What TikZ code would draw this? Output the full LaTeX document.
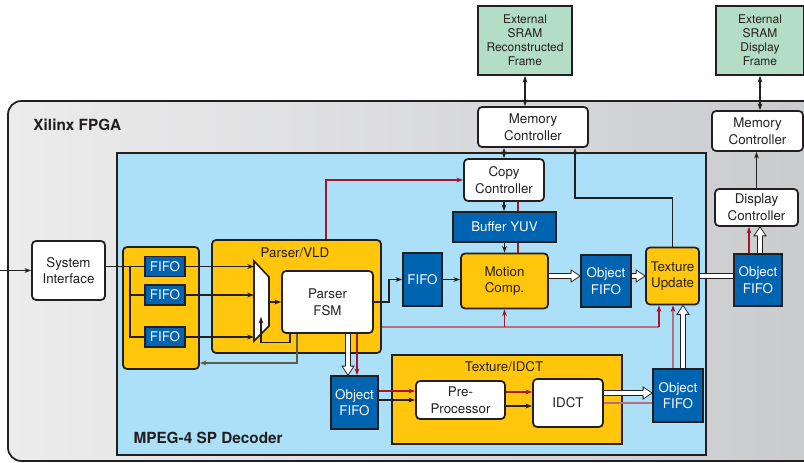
\documentclass[tikz,border=0pt]{standalone}
\usepackage{fontspec}
\setmainfont{TeX Gyre Heros}
\usetikzlibrary{arrows.meta,calc}

\definecolor{bord}{HTML}{231F20}
\definecolor{yel}{HTML}{FFC60B}
\definecolor{dblue}{HTML}{0064B0}
\definecolor{lblue}{HTML}{ACDFF8}
\definecolor{sgreen}{HTML}{B3DDC4}
\definecolor{redl}{HTML}{A5162A}
\definecolor{pinkl}{HTML}{B5707C}
\definecolor{fbgray}{HTML}{5E5B52}
\definecolor{fpgal}{HTML}{ECECED}
\definecolor{fpgad}{HTML}{C9CACC}

\tikzset{every picture/.style={line width=0.75pt}}
\tikzset{
  lbl/.style={font=\fontsize{10}{12.5}\selectfont, text=bord, align=center, inner sep=1pt},
  wbox/.style={lbl, draw=bord, fill=white, rounded corners=3pt, line width=1.3pt},
  ybox/.style={wbox, fill=yel},
  fifo/.style={lbl, draw=bord, fill=dblue, text=white, line width=1.3pt},
  sram/.style={lbl, draw=bord, fill=sgreen, line width=1.3pt, font=\fontsize{9}{10.5}\selectfont},
  title/.style={font=\fontsize{11.5}{13}\selectfont\bfseries, text=bord, inner sep=0pt},
  arr/.style={draw=bord, line width=1pt, -{Stealth[length=5pt,width=3.6pt]}},
  darr/.style={draw=bord, line width=1pt, {Stealth[length=5pt,width=3.6pt]}-{Stealth[length=5pt,width=3.6pt]}},
  redarr/.style={draw=redl, line width=0.8pt, -{Stealth[length=5pt,width=3.6pt]}},
  pinkarr/.style={draw=pinkl, line width=0.8pt, -{Stealth[length=5pt,width=3.6pt,color=redl]}},
  hollow/.style={draw=bord, double=white, double distance=2.9pt, line width=0.6pt},
  hhead/.pic={
    \fill[white] (0,0) -- (-9,-6) -- (-9,6) -- cycle;
    \draw[bord, line width=0.6pt, line join=miter] (-9,-2.33) -- (-9,-6) -- (0,0) -- (-9,6) -- (-9,2.33);
  }
}
\newcommand{\hollowto}[3]{%
  \draw[hollow, shorten >=6.6pt] #1 -- #2;
  \path #2 pic[rotate=#3] {hhead};}

\begin{document}
\begin{tikzpicture}[x=0.75pt,y=0.75pt,yscale=-1,xscale=1]
\useasboundingbox (0,0) rectangle (804,463);

%Shape: FPGA
\draw[draw=bord, line width=1.3pt, rounded corners=10pt, left color=fpgal, right color=fpgad] (8,101) rectangle (840,461);
%Shape: Decoder
\draw[draw=bord, line width=1.3pt, fill=lblue] (117,153) rectangle (706,455);

% Text Node
\node[title, anchor=west] (fpgatitle) at (33,125) {Xilinx FPGA};
% Text Node
\node[title, anchor=west] (dectitle) at (133,438) {MPEG-4 SP Decoder};

%Blocks outside the decoder
\node[sram, minimum width=70.5pt, minimum height=51.75pt] (sram1) at (525,40.5) {External\\SRAM\\Reconstructed\\Frame};
\node[sram, minimum width=66pt, minimum height=51.75pt] (sram2) at (760,40.5) {External\\SRAM\\Display\\Frame};
\node[wbox, minimum width=82.5pt, minimum height=30pt] (mem1) at (533,127) {Memory\\Controller};
\node[wbox, minimum width=68.25pt, minimum height=30pt] (mem2) at (757.5,131) {Memory\\Controller};
\node[wbox, minimum width=62.25pt, minimum height=27.75pt] (disp) at (756.5,207.5) {Display\\Controller};
\node[fifo, minimum width=36pt, minimum height=39pt] (ofifo2) at (758,280) {Object\\FIFO};
\node[wbox, minimum width=54.75pt, minimum height=44.25pt] (sysif) at (68.5,270.5) {System\\Interface};

%Group boxes
\node[ybox, minimum width=57pt, minimum height=91.5pt] (fifogrp) at (161,308) {};
\node[ybox, minimum width=126.75pt, minimum height=84.75pt] (vld) at (296.5,296.5) {};
\node[ybox, rounded corners=0pt, minimum width=172.5pt, minimum height=66.75pt] (idctgrp) at (507,399.5) {};
% Text Node
\node[lbl] (vldtitle) at (295,253) {Parser/VLD};
% Text Node
\node[lbl] (idcttitle) at (504,367) {Texture/IDCT};

%Blocks inside the decoder
\node[fifo, minimum width=30pt, minimum height=15pt] (fifoA) at (165,266.5) {FIFO};
\node[fifo, minimum width=30pt, minimum height=15pt] (fifoB) at (165,295) {FIFO};
\node[fifo, minimum width=30pt, minimum height=15pt] (fifoC) at (165,337) {FIFO};
\node[wbox, minimum width=68.25pt, minimum height=46.5pt] (fsm) at (327.5,302) {Parser\\FSM};
\node[fifo, minimum width=29.25pt, minimum height=39.75pt] (fifoM) at (422.5,279.5) {FIFO};
\node[ybox, minimum width=65.25pt, minimum height=41.25pt] (mc) at (504.5,281) {Motion\\Comp.};
\node[fifo, minimum width=77.25pt, minimum height=22.5pt] (yuv) at (504.5,227) {Buffer YUV};
\node[wbox, minimum width=60pt, minimum height=31.5pt] (copy) at (504,180) {Copy\\Controller};
\node[fifo, minimum width=37.5pt, minimum height=39pt] (ofifo1) at (606,281) {Object\\FIFO};
\node[ybox, minimum width=39.75pt, minimum height=42.75pt] (tex) at (672.5,276) {Texture\\Update};
\node[fifo, minimum width=35.25pt, minimum height=39.75pt] (ofifo3) at (354.5,402.5) {Object\\FIFO};
\node[wbox, minimum width=66.75pt, minimum height=28.5pt] (pre) at (460.5,400) {Pre-\\Processor};
\node[wbox, minimum width=52.5pt, minimum height=36pt] (idct) at (568,403) {IDCT};
\node[fifo, minimum width=37.5pt, minimum height=39.75pt] (ofifo4) at (678,395.5) {Object\\FIFO};

%Mux
\coordinate (muxTL) at (254,261);
\coordinate (muxTR) at (269,277);
\coordinate (muxBR) at (269,326);
\coordinate (muxBL) at (254,341);
\draw[draw=bord, line width=1.2pt, fill=white, line join=miter] (muxTL) -- (muxTR) -- (muxBR) -- (muxBL) -- cycle;

%helper points
\coordinate (in) at (0,270.5);
\coordinate (split) at ($(fifoA.west)+(-14,0)$);
\coordinate (rA) at ($(ofifo3.east)+(0,-11.5)$);
\coordinate (rB) at ($(pre.east)+(0,-8)$);
\coordinate (kB) at ($(pre.east)+(0,6)$);
\coordinate (rC) at ($(ofifo3.north)+(2.5,0)$);
\coordinate (hA) at ($(ofifo3.north)+(-6.5,0)$);
\coordinate (rbus) at ($(vld.east)+(0,30.5)$);
\coordinate (rT) at ($(tex.south)+(-13.5,0)$);
\coordinate (rD) at ($(ofifo4.north)+(-5,0)$);
\coordinate (hC) at ($(ofifo4.north)+(5,0)$);
\coordinate (hD) at ($(idct.east)+(0,-10)$);
\coordinate (rE) at ($(ofifo2.north)+(-9,0)$);
\coordinate (hB) at ($(ofifo2.north)+(2,0)$);
\coordinate (rF) at ($(vld.north)+(29.5,0)$);
\coordinate (rG) at ($(copy.south)+(14,0)$);
\coordinate (bend) at ($(mem1.south)+(42,50)$);

%Straight Lines: input side
\draw[arr] (in) -- (sysif.west);
\draw[draw=bord, line width=1pt] (sysif.east |- fifoA.west) -- (fifoA.west);
\draw[draw=bord, line width=1pt] (split) |- (fifoC.west);
\draw[draw=bord, line width=1pt] (split |- fifoB.west) -- (fifoB.west);
\draw[arr] (fifoA.east) -- (fifoA.east -| muxTL);
\draw[arr] (fifoB.east) -- (fifoB.east -| muxTL);
\draw[arr] (fifoC.east) -- (fifoC.east -| muxTL);
\draw[arr] (muxTR |- fsm.west) -- (fsm.west);
\draw[arr, line width=0.8pt] ($(fsm.south)+(-37.5,0)$) |- ++(-29,9) -- ++(0,-26);
\draw[arr, draw=fbgray, line width=0.8pt] ($(fsm.south)+(-30.5,0)$) |- ($(fifogrp.east)+(0,55)$);
\draw[arr] (fsm.east) -- ++(15,0) |- (fifoM.west);
\draw[arr] (fifoM.east) -- (fifoM.east -| mc.west);

%Straight Lines: motion path
\draw[arr] (copy.south) -- (copy.south |- yuv.north);
\draw[arr] (yuv.south) -- (yuv.south |- mc.north);
\draw[draw=redl, line width=0.8pt] (rG) -- (rG |- yuv.north);
\draw[draw=redl, line width=0.8pt] (rG |- yuv.south) -- (rG |- mc.north);
\draw[redarr] (rF) |- (copy.west);
\draw[darr] (copy.north) -- (copy.north |- mem1.south);
\draw[darr] (sram1.south) -- (sram1.south |- mem1.north);
\draw[arr] (tex.north) |- (bend) -- (bend |- mem1.south);

%Red bus
\draw[draw=pinkl, line width=0.8pt] (rbus) -- (rbus -| rT);
\draw[redarr] (rbus -| mc.south) -- (mc.south);
\draw[redarr] (rbus -| rT) -- (rT);

%Texture path
\draw[redarr] (rC |- fsm.south) -- (rC);
\draw[redarr] (rA) -- (rA -| pre.west);
\draw[arr] (ofifo3.east |- pre.west) -- (pre.west);
\draw[redarr] (rB) -- (rB -| idct.west);
\draw[arr] (kB) -- (kB -| idct.west);
\draw[draw=pinkl, line width=0.8pt] (idct.east) -- (idct.east -| ofifo4.west);
\draw[pinkarr] (rD) -- (rD |- tex.south);

%Display side
\draw[redarr] (rE) -- (rE |- disp.south);
\draw[arr] (disp.north) -- (disp.north |- mem2.south);
\draw[darr] (sram2.south) -- (sram2.south |- mem2.north);

%Hollow arrows
\hollowto{(mc.east |- tex.west)}{(ofifo1.west |- tex.west)}{0}
\hollowto{(ofifo1.east |- tex.west)}{(tex.west)}{0}
\hollowto{(hA |- fsm.south)}{(hA)}{-90}
\hollowto{(hD)}{(hD -| ofifo4.west)}{0}
\hollowto{(hC)}{(hC |- tex.south)}{90}
\hollowto{(hB)}{(hB |- disp.south)}{90}
\draw[hollow] (tex.east) -- (tex.east -| ofifo2.west);

\end{tikzpicture}
\end{document}
